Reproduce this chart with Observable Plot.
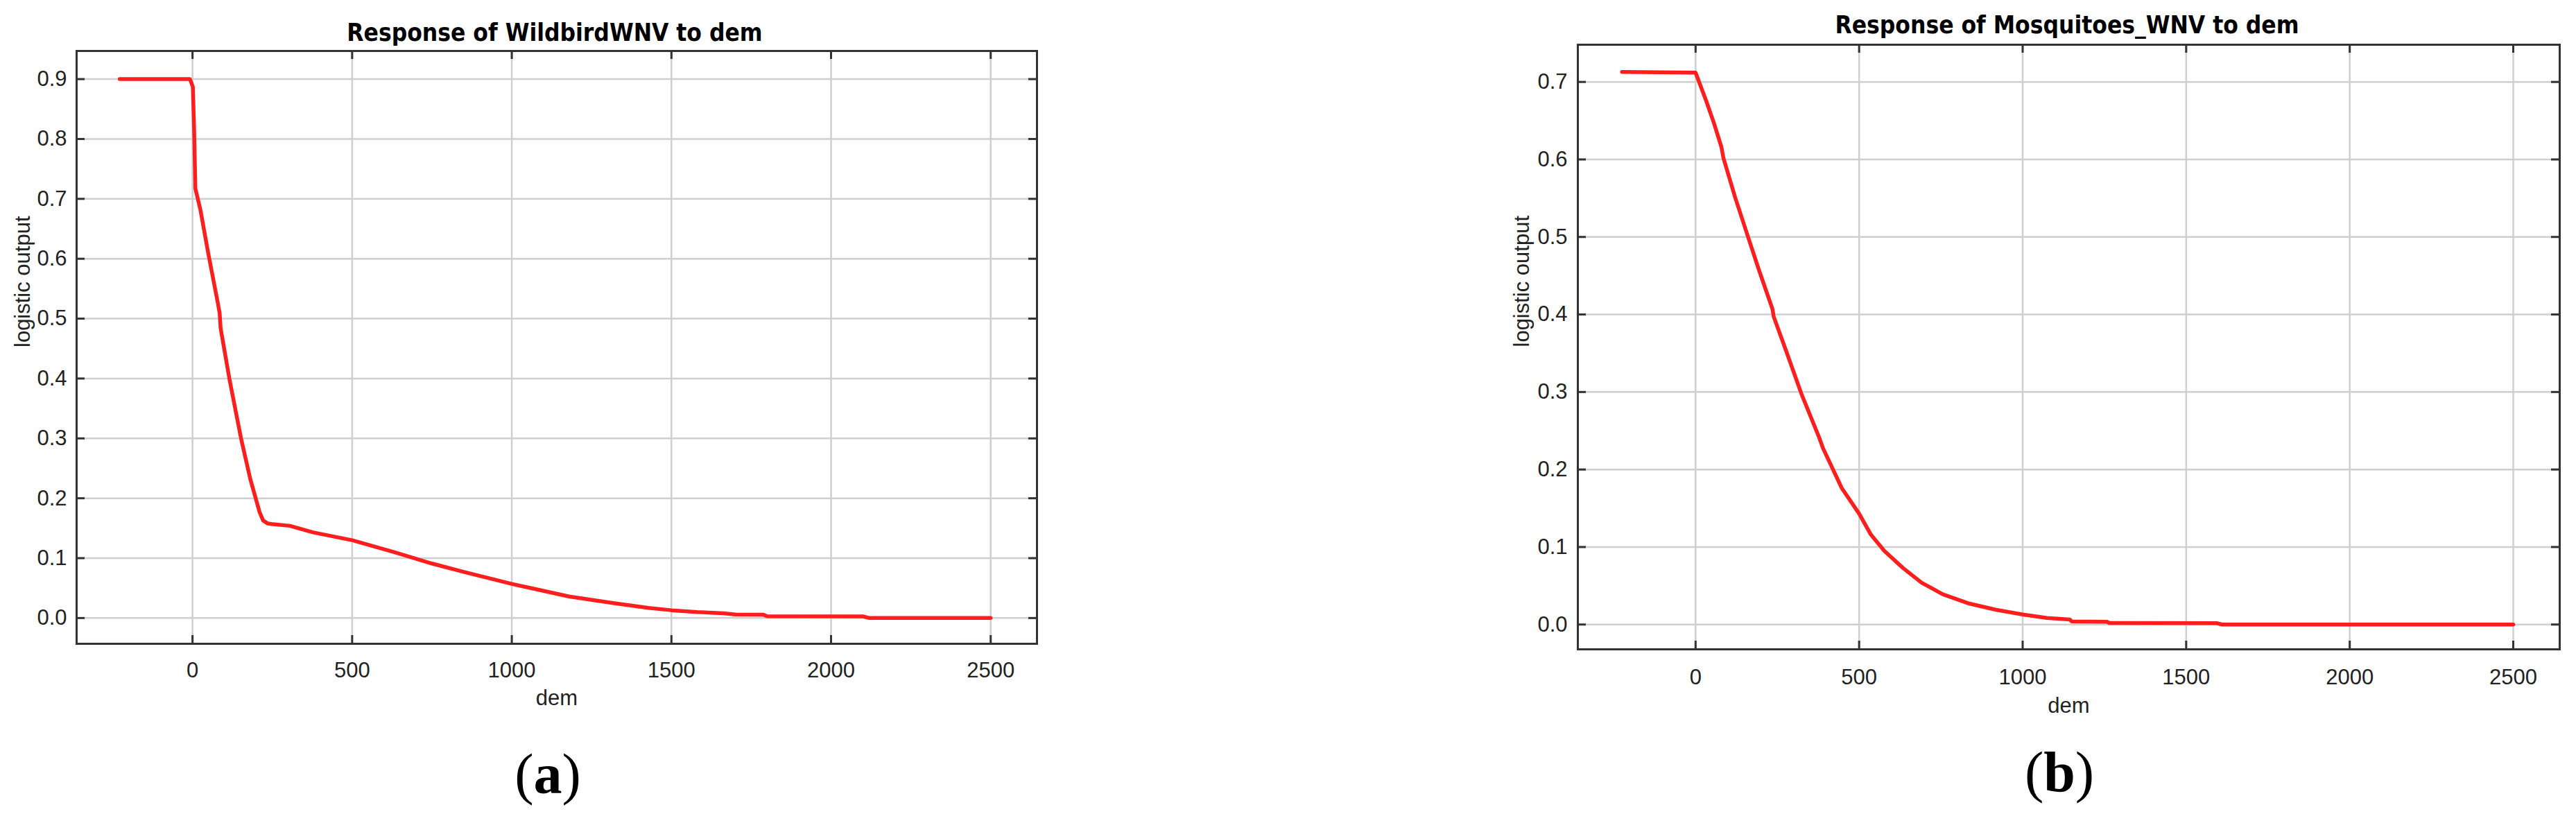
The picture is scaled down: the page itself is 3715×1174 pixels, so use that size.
<!DOCTYPE html>
<html><head><meta charset="utf-8">
<script src="https://cdn.jsdelivr.net/npm/d3@7"></script>
<script src="https://cdn.jsdelivr.net/npm/@observablehq/plot@0.6"></script>
<style>
html,body{margin:0;padding:0;background:#fff;}
#page{position:relative;width:3715px;height:1174px;overflow:hidden;background:#fff;}
.title{position:absolute;width:1200px;text-align:center;font-family:"DejaVu Sans Condensed","DejaVu Sans",sans-serif;font-stretch:condensed;font-weight:bold;font-size:35px;line-height:40px;color:#000;white-space:nowrap;}
.cap{position:absolute;width:300px;text-align:center;font-family:"Liberation Serif","Times New Roman",serif;font-size:82px;line-height:90px;color:#000;}
.chart{position:absolute;top:0;}
</style></head><body><div id="page"></div>
<script>
// ---- Data ----
const titleA = "Response of WildbirdWNV to dem";
const titleB = "Response of Mosquitoes_WNV to dem";
const captionA = "a";
const captionB = "b";
const xLabel = "dem";
const yLabel = "logistic output";
const xTicks = [0, 500, 1000, 1500, 2000, 2500];
const yTicksA = [0, 0.1, 0.2, 0.3, 0.4, 0.5, 0.6, 0.7, 0.8, 0.9];
const yTicksB = [0, 0.1, 0.2, 0.3, 0.4, 0.5, 0.6, 0.7];

const demA = [-228, -8, 1, 5, 9, 25, 50, 79, 85, 88, 116, 152, 181, 210, 221, 235, 247, 305, 378, 500, 632, 750, 850, 1000, 1179, 1317, 1428, 1500, 1580, 1663, 1700, 1788, 1800, 2100, 2120, 2500];
const outA = [0.900, 0.900, 0.887, 0.816, 0.717, 0.681, 0.607, 0.527, 0.509, 0.484, 0.398, 0.300, 0.232, 0.177, 0.163, 0.158, 0.157, 0.154, 0.143, 0.130, 0.110, 0.091, 0.077, 0.057, 0.036, 0.025, 0.017, 0.013, 0.010, 0.008, 0.006, 0.0055, 0.003, 0.0027, 0.0, 0.0];

const demB = [-225, 0, 32, 56, 79, 85, 121, 162, 194, 235, 239, 276, 325, 378, 390, 447, 500, 536, 577, 634, 691, 756, 837, 919, 1000, 1074, 1144, 1150, 1258, 1265, 1593, 1610, 2500];
const outB = [0.713, 0.712, 0.676, 0.647, 0.616, 0.602, 0.551, 0.498, 0.457, 0.407, 0.397, 0.354, 0.296, 0.241, 0.227, 0.176, 0.143, 0.116, 0.095, 0.073, 0.054, 0.039, 0.027, 0.019, 0.013, 0.0085, 0.0065, 0.004, 0.0035, 0.002, 0.0018, 0.0, 0.0];

// ---- Chart builder ----
function chart(cfg) {
  const data = cfg.dem.map((d, i) => ({dem: d, out: cfg.out[i]}));
  const fw = cfg.width - cfg.ml - cfg.mr;
  const fh = cfg.height - cfg.mt - cfg.mb;
  const tickStyle = {stroke: "#333", strokeWidth: 3};
  const gridStyle = {stroke: "#cfcfcf", strokeOpacity: 1, strokeWidth: 2.5};
  return Plot.plot({
    width: cfg.width, height: cfg.height,
    marginLeft: cfg.ml, marginRight: cfg.mr, marginTop: cfg.mt, marginBottom: cfg.mb,
    style: {fontFamily: "'Liberation Sans', Arial, sans-serif", fontSize: "31px", background: "white", color: "#222", overflow: "visible"},
    x: {domain: cfg.xDomain},
    y: {domain: cfg.yDomain},
    marks: [
      Plot.gridX(xTicks, gridStyle),
      Plot.gridY(cfg.yTicks, gridStyle),
      Plot.line(data, {x: "dem", y: "out", stroke: "#ff1e1e", strokeWidth: 5.5, strokeLinejoin: "round"}),
      Plot.tickY(cfg.yTicks, {y: d => d, insetRight: fw - 12, ...tickStyle}),
      Plot.tickY(cfg.yTicks, {y: d => d, insetLeft: fw - 12, ...tickStyle}),
      Plot.tickX(xTicks, {x: d => d, insetBottom: fh - 12, ...tickStyle}),
      Plot.tickX(xTicks, {x: d => d, insetTop: fh - 12, ...tickStyle}),
      Plot.frame({stroke: "#333", strokeWidth: 3}),
      Plot.axisX(xTicks, {tickSize: 0, tickPadding: cfg.xPad, tickFormat: d => String(d), label: null, fill: "#222"}),
      Plot.axisY(cfg.yTicks, {tickSize: 0, tickPadding: cfg.yPad, tickFormat: d => d.toFixed(1), label: null, fill: "#222"}),
      Plot.text([xLabel], {frameAnchor: "bottom", dy: cfg.xLabDy, lineAnchor: "middle", fill: "#222"}),
      Plot.text([yLabel], {frameAnchor: "left", dx: -cfg.yLabDx, rotate: -90, lineAnchor: "middle", fill: "#222"})
    ]
  });
}

const page = document.getElementById("page");

function place(el, left) {
  const wrap = document.createElement("div");
  wrap.className = "chart";
  wrap.style.left = left + "px";
  wrap.appendChild(el);
  page.appendChild(wrap);
}

place(chart({dem: demA, out: outA, yTicks: yTicksA, xDomain: [-363, 2645], yDomain: [-0.043, 0.947],
  width: 1530, height: 1060, ml: 110, mr: 35, mt: 73, mb: 132, xPad: 26, yPad: 14, xLabDy: 79, yLabDx: 77}), 0);

place(chart({dem: demB, out: outB, yTicks: yTicksB, xDomain: [-360, 2642], yDomain: [-0.032, 0.748],
  width: 1615, height: 1060, ml: 175, mr: 24, mt: 64, mb: 124, xPad: 28, yPad: 15, xLabDy: 82, yLabDx: 80}), 2100);

function addDiv(cls, html, left, top) {
  const d = document.createElement("div");
  d.className = cls;
  d.innerHTML = html;
  d.style.left = left + "px";
  d.style.top = top + "px";
  page.appendChild(d);
}
addDiv("title", titleA, 800 - 600, 27);
addDiv("title", titleB, 2981 - 600, 16);
addDiv("cap", "(<b>" + captionA + "</b>)", 790 - 150, 1072);
addDiv("cap", "(<b>" + captionB + "</b>)", 2970 - 150, 1069);
</script>
</body></html>
